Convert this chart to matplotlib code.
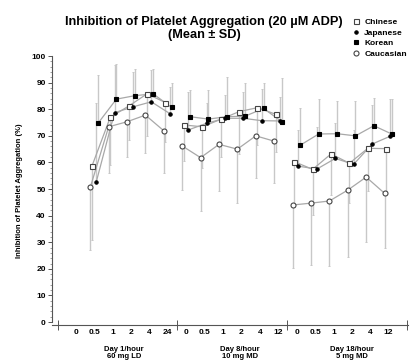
import numpy as np
import matplotlib
matplotlib.use("Agg")
import matplotlib.pyplot as plt

plt.rcParams['font.family'] = ['Liberation Sans', 'DejaVu Sans']
plt.rcParams['font.weight'] = 'bold'

# tick labels for every sampling time (index 1..18)
time_labels = ['0', '0.5', '1', '2', '4', '24',
               '0', '0.5', '1', '2', '4', '12',
               '0', '0.5', '1', '2', '4', '12']
group_labels = ['Day 1/hour\n60 mg LD', 'Day 8/hour\n10 mg MD', 'Day 18/hour\n5 mg MD']

# positions of the plotted points per day (Day 1 hour 0 has no points)
group_pos = [[2, 3, 4, 5, 6], [7, 8, 9, 10, 11, 12], [13, 14, 15, 16, 17, 18]]

# mean values, one list per day
chinese = [[58.6, 77.0, 81.2, 85.8, 82.5],
           [74.1, 73.4, 76.2, 79.1, 80.6, 78.1],
           [60.3, 57.4, 63.2, 59.7, 65.3, 65.2]]
japanese = [[52.5, 78.7, 80.9, 82.8, 78.4],
            [72.2, 74.7, 76.6, 76.6, 75.7, 75.6],
            [58.6, 57.5, 61.5, 59.3, 66.9, 69.9]]
korean = [[74.7, 83.8, 85.1, 85.8, 80.7],
          [77.2, 76.3, 77.2, 77.4, 80.3, 75.3],
          [66.5, 70.7, 70.8, 70.0, 73.8, 70.6]]
caucasian = [[50.6, 73.4, 75.3, 77.8, 71.9],
             [66.2, 61.8, 66.8, 65.0, 70.0, 68.0],
             [44.0, 44.7, 45.5, 49.6, 54.5, 48.4]]

# SD values (open symbols drawn downward, filled symbols upward)
chinese_sd = [[27.8, 18.0, 12.8, 16.0, 15.0],
              [13.6, 15.5, 14.0, 16.0, 14.0, 14.0],
              [17.0, 17.0, 15.5, 15.0, 16.0, 17.0]]
japanese_sd = [[30.0, 18.0, 13.0, 12.0, 10.0],
               [14.4, 7.5, 8.7, 10.0, 12.0, 9.0],
               [13.6, 16.0, 13.5, 13.0, 14.7, 14.0]]
korean_sd = [[18.3, 13.2, 10.0, 9.2, 9.3],
             [10.0, 11.0, 15.0, 12.3, 9.4, 16.5],
             [13.8, 13.3, 12.4, 13.2, 10.5, 13.2]]
caucasian_sd = [[23.6, 17.4, 13.3, 14.3, 16.0],
                [16.6, 20.0, 17.6, 20.4, 16.0, 15.6],
                [23.5, 23.2, 24.5, 25.0, 24.3, 20.5]]

series = [
    ('Chinese', chinese, chinese_sd, 's', 'white', 3.6, -0.13, 'down'),
    ('Japanese', japanese, japanese_sd, 'o', 'black', 2.4, 0.10, 'up'),
    ('Korean', korean, korean_sd, 's', 'black', 2.7, 0.20, 'up'),
    ('Caucasian', caucasian, caucasian_sd, 'o', 'white', 3.6, -0.22, 'down'),
]

fig = plt.figure(figsize=(4.11, 3.64), dpi=100)
ax = fig.add_axes([0.1265, 0.108, 0.866, 0.738])

for name, vals, sds, mk, fc, ms, off, direction in series:
    for g in range(3):
        x = np.array(group_pos[g]) + off
        y = np.array(vals[g])
        sd = np.array(sds[g])
        if direction == 'up':
            yerr = [np.zeros_like(sd), sd]
        else:
            yerr = [sd, np.zeros_like(sd)]
        ax.errorbar(x, y, yerr=yerr, fmt='none', ecolor='#c8c8c8',
                    elinewidth=1.0, capsize=1.0, capthick=0.7, zorder=1)
        ax.plot(x, y, color='#a8a8a8', lw=0.9, zorder=2)
        ax.plot(x, y, ls='none', marker=mk, ms=ms, mfc=fc,
                mec='#444444' if fc == 'white' else 'black', mew=0.8, zorder=3,
                label=name if g == 0 else None)

ax.set_xlim(-0.3, 19.05)
ax.set_ylim(-1, 100)
ax.spines['top'].set_visible(False)
ax.spines['right'].set_visible(False)
ax.spines['left'].set_bounds(0, 100)
ax.spines['left'].set_color('#555555')
ax.spines['bottom'].set_color('#555555')

ax.set_yticks(np.arange(0, 101, 10))
ax.set_yticks(np.arange(0, 101, 2), minor=True)
ax.tick_params(axis='y', which='major', labelsize=6, length=3, width=0.7, color='#555555', pad=1.5)
ax.tick_params(axis='y', which='minor', length=1.5, width=0.5, color='#777777')

ax.set_xticks([0, 6.5, 12.5, 19])
ax.set_xticklabels([])
ax.set_xticks(np.arange(1, 19), minor=True)
ax.set_xticklabels(time_labels, minor=True)
ax.tick_params(axis='x', which='major', direction='inout', length=7, width=0.7, color='#555555')
ax.tick_params(axis='x', which='minor', length=0, labelsize=6, pad=3)

ax.set_ylabel('Inhibition of Platelet Aggregation (%)', fontsize=5.5, fontweight='bold', labelpad=6)

label_x = [3.6, 9.9, 16.0]
for i, lab in enumerate(group_labels):
    ax.text(label_x[i], -0.078, lab,
            transform=ax.get_xaxis_transform(), ha='center', va='top',
            fontsize=5.5, fontweight='bold', linespacing=1.0)

fig.text(0.497, 0.955, 'Inhibition of Platelet Aggregation (20 µM ADP)\n(Mean ± SD)',
         ha='center', va='top', fontsize=9.2, fontweight='bold', linespacing=1.05)

leg = fig.legend(loc='upper left', bbox_to_anchor=(0.848, 0.962), frameon=False,
                 fontsize=6, handlelength=0.8, handletextpad=0.6, labelspacing=0.35,
                 borderpad=0)
for t in leg.get_texts():
    t.set_fontweight('bold')

plt.savefig('out.png', dpi=100)
